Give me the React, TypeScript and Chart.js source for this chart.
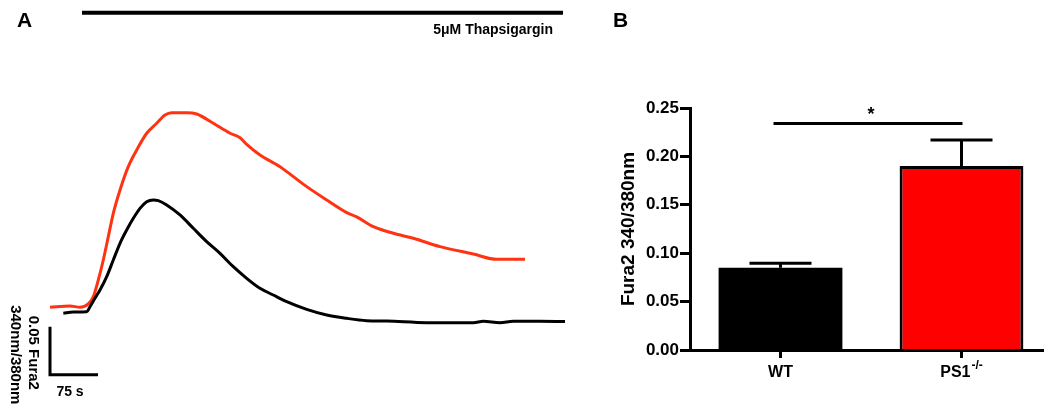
import React, { useEffect, useRef } from 'react';
import { Chart, registerables } from 'chart.js';

Chart.register(...registerables);

// ---------- Panel A: Fura2 traces (time in s, ΔRatio 340/380) ----------
const redTime = [0, 31.3, 46.9, 59.8, 67.7, 75.5, 83.3, 91.1, 98.9, 109.4, 122.3, 135.5, 151.1, 166.7, 179.7, 190.2, 213.6, 229.2, 255.2, 281.3, 296.9, 307.3, 328.1, 359.4, 380.2, 401.1, 432.3, 463.6, 479.2, 505.2, 536.4, 567.7, 609.4, 661.4, 698.0, 742.2];
const redRatio = [0.0153, 0.0167, 0.0153, 0.0188, 0.0264, 0.0438, 0.0646, 0.0889, 0.1132, 0.1375, 0.1618, 0.1792, 0.1966, 0.2070, 0.2156, 0.2180, 0.2180, 0.2167, 0.2070, 0.1966, 0.1920, 0.1850, 0.1740, 0.1618, 0.1514, 0.1410, 0.1271, 0.1140, 0.1095, 0.0993, 0.0924, 0.0872, 0.0785, 0.0708, 0.0653, 0.0653];

const blackTime = [20.8, 36.4, 57.3, 62.5, 70.3, 78.1, 88.6, 98.9, 109.4, 119.8, 130.2, 140.6, 151.1, 161.4, 169.2, 182.3, 203.1, 223.9, 244.8, 265.6, 286.4, 307.3, 328.1, 348.9, 369.8, 401.1, 432.3, 463.6, 494.8, 526.1, 588.5, 661.4, 677.1, 703.1, 723.9, 765.6, 804.7];
const blackRatio = [0.0091, 0.0104, 0.0107, 0.0159, 0.0247, 0.0333, 0.0472, 0.0646, 0.0820, 0.0958, 0.1080, 0.1184, 0.1253, 0.1271, 0.1264, 0.1219, 0.1115, 0.0976, 0.0837, 0.0715, 0.0576, 0.0455, 0.0351, 0.0281, 0.0212, 0.0132, 0.0073, 0.0038, 0.0014, 0.0010, -0.0007, -0.0007, 0.0007, -0.0007, 0.0007, 0.0007, 0.0005];

const drugLabel = '5\u03bcM Thapsigargin';
const drugStart = 50;
const drugEnd = 801.6;
const drugLevel = 0.3222;

const scaleBarTime = 75; // s
const scaleBarRatio = 0.05;
const scaleBarTop = -0.005;
const scaleBarTimeLabel = '75 s';
const scaleBarRatioLabel1 = '0.05 Fura2';
const scaleBarRatioLabel2 = '340nm/380nm';

const traceTimeRange = [-78.125, 859.375];
const traceRatioRange = [-0.08646, 0.33542];

// ---------- Panel B: peak response ----------
const groupLabels = ['WT', 'PS1'];
const groupSuperscripts = ['', '-/-'];
const groupMeans = [0.085, 0.19];
const groupSem = [0.0045, 0.027];
const groupColors = ['#000000', '#ff0000'];
const groupBorderWidths = [0, 3];
const yAxisTitle = 'Fura2 340/380nm';
const yMin = 0;
const yMax = 0.25;
const yStep = 0.05;
const significanceLevel = 0.234;
const significanceMark = '*';

const FONT = '"Liberation Sans", Arial, Helvetica, sans-serif';

function toPoints(xs: number[], ys: number[]) {
  return xs.map((x, i) => ({ x, y: ys[i] }));
}

export default function App() {
  const refA = useRef<HTMLCanvasElement>(null);
  const refB = useRef<HTMLCanvasElement>(null);

  useEffect(() => {
    Chart.defaults.color = '#000';
    Chart.defaults.font.family = FONT;

    const panelAPlugin = {
      id: 'panelA',
      afterDraw(chart: any) {
        const { ctx, scales } = chart;
        const xs = scales.x;
        const ys = scales.y;
        ctx.save();
        ctx.fillStyle = '#000';
        ctx.font = `bold 21px ${FONT}`;
        ctx.textAlign = 'left';
        ctx.textBaseline = 'alphabetic';
        ctx.fillText('A', 17, 27);
        ctx.font = `bold 14px ${FONT}`;
        ctx.textAlign = 'right';
        ctx.fillText(drugLabel, xs.getPixelForValue(drugEnd) - 10, ys.getPixelForValue(drugLevel) + 21);
        const x0 = xs.getPixelForValue(0);
        const yBottom = ys.getPixelForValue(scaleBarTop - scaleBarRatio);
        const yTop = ys.getPixelForValue(scaleBarTop);
        ctx.textAlign = 'center';
        ctx.fillText(scaleBarTimeLabel, x0 + 20, yBottom + 21);
        ctx.font = `bold 15px ${FONT}`;
        const yc = (yTop + yBottom) / 2;
        ctx.save();
        ctx.translate(x0 - 21, yc + 2);
        ctx.rotate(Math.PI / 2);
        ctx.fillText(scaleBarRatioLabel1, 0, 0);
        ctx.restore();
        ctx.save();
        ctx.translate(x0 - 39, yc + 4);
        ctx.rotate(Math.PI / 2);
        ctx.fillText(scaleBarRatioLabel2, 0, 0);
        ctx.restore();
        ctx.restore();
      },
    };

    const chartA = new Chart(refA.current!, {
      type: 'line',
      data: {
        datasets: [
          {
            data: toPoints(blackTime, blackRatio),
            borderColor: '#000000',
            borderWidth: 3,
            pointRadius: 0,
            cubicInterpolationMode: 'monotone',
            clip: false,
          },
          {
            data: toPoints(redTime, redRatio),
            borderColor: '#ff3311',
            borderWidth: 3,
            pointRadius: 0,
            cubicInterpolationMode: 'monotone',
            clip: false,
          },
          {
            data: [
              { x: 0, y: scaleBarTop },
              { x: 0, y: scaleBarTop - scaleBarRatio },
              { x: scaleBarTime, y: scaleBarTop - scaleBarRatio },
            ],
            borderColor: '#000000',
            borderWidth: 3,
            pointRadius: 0,
            tension: 0,
            borderJoinStyle: 'miter',
            borderCapStyle: 'butt',
            clip: false,
          },
          {
            data: [
              { x: drugStart, y: drugLevel },
              { x: drugEnd, y: drugLevel },
            ],
            borderColor: '#000000',
            borderWidth: 4,
            pointRadius: 0,
            tension: 0,
            clip: false,
          },
        ] as any,
      },
      options: {
        animation: false,
        responsive: false,
        devicePixelRatio: 1,
        layout: { padding: 0 },
        scales: {
          x: { type: 'linear', display: false, min: traceTimeRange[0], max: traceTimeRange[1] },
          y: { type: 'linear', display: false, min: traceRatioRange[0], max: traceRatioRange[1] },
        },
        plugins: { legend: { display: false }, tooltip: { enabled: false } },
      } as any,
      plugins: [panelAPlugin],
    });

    const panelBPlugin = {
      id: 'panelB',
      afterDatasetsDraw(chart: any) {
        const { ctx, scales } = chart;
        const xs = scales.x;
        const ys = scales.y;
        ctx.save();
        ctx.strokeStyle = '#000';
        ctx.lineWidth = 3;
        ctx.lineCap = 'butt';
        groupMeans.forEach((m, i) => {
          const x = xs.getPixelForValue(i);
          const yTop = ys.getPixelForValue(m + groupSem[i]);
          const yBar = ys.getPixelForValue(m);
          ctx.beginPath();
          ctx.moveTo(x, yBar);
          ctx.lineTo(x, yTop);
          ctx.moveTo(x - 31, yTop);
          ctx.lineTo(x + 31, yTop);
          ctx.stroke();
        });
        const ySig = ys.getPixelForValue(significanceLevel);
        const xa = xs.getPixelForValue(0) - 7;
        const xb = xs.getPixelForValue(1) + 1;
        ctx.beginPath();
        ctx.moveTo(xa, ySig);
        ctx.lineTo(xb, ySig);
        ctx.stroke();
        ctx.fillStyle = '#000';
        ctx.font = `bold 18px ${FONT}`;
        ctx.textAlign = 'center';
        ctx.textBaseline = 'alphabetic';
        ctx.fillText(significanceMark, (xs.getPixelForValue(0) + xs.getPixelForValue(1)) / 2, ySig - 3);
        ctx.restore();
      },
      afterDraw(chart: any) {
        const { ctx, scales } = chart;
        const xs = scales.x;
        ctx.save();
        ctx.fillStyle = '#000';
        ctx.textBaseline = 'alphabetic';
        ctx.textAlign = 'left';
        ctx.font = `bold 21px ${FONT}`;
        ctx.fillText('B', 13, 27);
        groupLabels.forEach((lab, i) => {
          const cx = xs.getPixelForValue(i);
          ctx.font = `bold 16px ${FONT}`;
          const w1 = ctx.measureText(lab).width;
          ctx.font = `bold 12px ${FONT}`;
          const sup = groupSuperscripts[i];
          const w2 = sup ? ctx.measureText(sup).width + 1 : 0;
          const start = cx - (w1 + w2) / 2;
          const base = xs.bottom - 28;
          ctx.font = `bold 16px ${FONT}`;
          ctx.fillText(lab, start, base);
          if (sup) {
            ctx.font = `bold 12px ${FONT}`;
            ctx.fillText(sup, start + w1 + 1, base - 8);
          }
        });
        ctx.restore();
      },
    };

    const chartB = new Chart(refB.current!, {
      type: 'bar',
      data: {
        labels: groupLabels,
        datasets: [
          {
            data: groupMeans,
            backgroundColor: groupColors,
            borderColor: '#000000',
            borderWidth: groupBorderWidths,
            barPercentage: 0.684,
            categoryPercentage: 1,
          },
        ],
      },
      options: {
        animation: false,
        responsive: false,
        devicePixelRatio: 1,
        layout: { padding: { top: 108, left: 0, right: 0, bottom: 0 } },
        scales: {
          x: {
            z: 1,
            grid: { display: true, drawOnChartArea: false, offset: false, drawTicks: true, tickLength: 8, tickWidth: 3, tickColor: '#000' },
            border: { display: true, color: '#000', width: 3 },
            ticks: { display: false },
            afterFit: (s: any) => { s.height = 55; },
          },
          y: {
            min: yMin,
            max: yMax,
            ticks: {
              stepSize: yStep,
              color: '#000',
              padding: 1,
              font: { family: FONT, size: 17, weight: 'bold' },
              callback: (v: any) => Number(v).toFixed(2),
            },
            grid: { display: true, drawOnChartArea: false, drawTicks: true, tickLength: 10, tickWidth: 3, tickColor: '#000' },
            border: { display: true, color: '#000', width: 3 },
            title: {
              display: true,
              text: yAxisTitle,
              color: '#000',
              font: { family: FONT, size: 19, weight: 'bold' },
              padding: { top: 17, bottom: 0 },
            },
            afterFit: (s: any) => { s.width = 90; },
          },
        },
        plugins: { legend: { display: false }, tooltip: { enabled: false } },
      } as any,
      plugins: [panelBPlugin],
    });

    return () => {
      chartA.destroy();
      chartB.destroy();
    };
  }, []);

  return (
    <div style={{ position: 'fixed', left: 0, top: 0, width: 1044, height: 405, overflow: 'hidden', background: '#fff' }}>
      <canvas ref={refA} width={600} height={405} style={{ position: 'absolute', left: 0, top: 0, width: 600, height: 405 }} />
      <canvas ref={refB} width={452} height={405} style={{ position: 'absolute', left: 600, top: 0, width: 452, height: 405 }} />
    </div>
  );
}
